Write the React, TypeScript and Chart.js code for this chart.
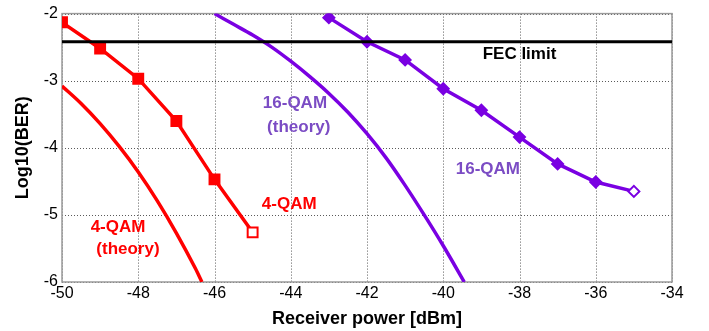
import React, { useEffect, useRef } from 'react';
import { Chart, registerables } from 'chart.js';

Chart.register(...registerables);

// ---- data ----
const qam4Power = [-50, -49, -48, -47, -46, -45];
const qam4LogBer = [-2.13, -2.52, -2.97, -3.6, -4.47, -5.26];

const qam16Power = [-43, -42, -41, -40, -39, -38, -37, -36, -35];
const qam16LogBer = [-2.06, -2.42, -2.69, -3.12, -3.44, -3.84, -4.24, -4.51, -4.65];

const qam4TheoryPower = [-50, -49.5, -49, -48.5, -48, -47.5, -47, -46.5, -46.33];
const qam4TheoryLogBer = [-3.08, -3.34, -3.64, -3.98, -4.36, -4.79, -5.27, -5.8, -6.0];

const qam16TheoryPower = [-46, -45.5, -45, -44.5, -44, -43.5, -43, -42.5, -42, -41.5, -41, -40.5, -40, -39.5, -39.45];
const qam16TheoryLogBer = [-2.0, -2.16, -2.32, -2.5, -2.71, -2.94, -3.19, -3.47, -3.79, -4.15, -4.56, -5.0, -5.46, -5.95, -6.0];

const fecLimit = -2.42;
const xRange = [-50, -34];
const yRange = [-6, -2];
const xStep = 2;
const yStep = 1;

const xTitle = 'Receiver power [dBm]';
const yTitle = 'Log10(BER)';

// annotation texts (anchored in data units)
const labelTexts = ['FEC limit', '16-QAM', '(theory)', '16-QAM', '4-QAM', '4-QAM', '(theory)'];
const labelX = [-38.0, -43.89, -43.79, -38.83, -44.04, -48.53, -48.27];
const labelY = [-2.6, -3.33, -3.69, -4.32, -4.84, -5.19, -5.51];
const labelColors = ['#000000', '#7b4cc4', '#7b4cc4', '#7b4cc4', '#ff0000', '#ff0000', '#ff0000'];

const RED = '#ff0000';
const PURPLE = '#7a00e2';
const FONT = "Arial, 'Liberation Sans', sans-serif";

const toPts = (xs: number[], ys: number[]) => xs.map((x, i) => ({ x, y: ys[i] }));

// dotted grid + solid frame, drawn from the chart's own scales
const framePlugin = {
  id: 'frame',
  beforeDatasetsDraw(chart: any) {
    const { ctx, chartArea, scales } = chart;
    const { left, right, top, bottom } = chartArea;
    ctx.save();
    ctx.strokeStyle = '#5a5a5a';
    ctx.lineWidth = 1;
    ctx.setLineDash([1, 2]);
    ctx.beginPath();
    scales.x.ticks.forEach((t: any) => {
      const px = Math.round(scales.x.getPixelForValue(t.value)) + 0.5;
      ctx.moveTo(px, top);
      ctx.lineTo(px, bottom);
    });
    scales.y.ticks.forEach((t: any) => {
      const py = Math.round(scales.y.getPixelForValue(t.value)) + 0.5;
      ctx.moveTo(left, py);
      ctx.lineTo(right, py);
    });
    ctx.stroke();
    ctx.setLineDash([]);
    ctx.strokeStyle = '#9a9a9a';
    ctx.lineWidth = 1.5;
    ctx.strokeRect(left, top, right - left, bottom - top);
    ctx.restore();
  },
};

const labelPlugin = {
  id: 'labels',
  afterDatasetsDraw(chart: any) {
    const { ctx, scales } = chart;
    ctx.save();
    ctx.font = `bold 17px ${FONT}`;
    ctx.textAlign = 'center';
    ctx.textBaseline = 'middle';
    labelTexts.forEach((t, i) => {
      ctx.fillStyle = labelColors[i];
      ctx.fillText(t, scales.x.getPixelForValue(labelX[i]), scales.y.getPixelForValue(labelY[i]));
    });
    ctx.restore();
  },
};

export default function App() {
  const ref = useRef<HTMLCanvasElement | null>(null);

  useEffect(() => {
    if (!ref.current) return;
    const gridOpts = { display: false, drawTicks: false };
    const borderOpts = { display: false };
    const chart = new Chart(ref.current, {
      type: 'scatter',
      data: {
        datasets: [
          {
            label: 'FEC limit',
            data: toPts(xRange, [fecLimit, fecLimit]),
            showLine: true,
            borderColor: '#000000',
            borderWidth: 3,
            pointRadius: 0,
          },
          {
            label: '4-QAM (theory)',
            data: toPts(qam4TheoryPower, qam4TheoryLogBer),
            showLine: true,
            borderColor: RED,
            borderWidth: 3.5,
            pointRadius: 0,
            cubicInterpolationMode: 'monotone',
          },
          {
            label: '16-QAM (theory)',
            data: toPts(qam16TheoryPower, qam16TheoryLogBer),
            showLine: true,
            borderColor: PURPLE,
            borderWidth: 3.5,
            pointRadius: 0,
            cubicInterpolationMode: 'monotone',
          },
          {
            label: '4-QAM',
            data: toPts(qam4Power, qam4LogBer),
            showLine: true,
            borderColor: RED,
            borderWidth: 3.5,
            pointStyle: 'rect',
            pointRadius: 7,
            pointBorderWidth: 2,
            pointBorderColor: RED,
            pointBackgroundColor: qam4Power.map((_, i) => (i === qam4Power.length - 1 ? '#ffffff' : RED)),
          },
          {
            label: '16-QAM',
            data: toPts(qam16Power, qam16LogBer),
            showLine: true,
            borderColor: PURPLE,
            borderWidth: 3.5,
            pointStyle: 'rectRot',
            pointRadius: 5.5,
            pointBorderWidth: 2,
            pointBorderColor: PURPLE,
            pointBackgroundColor: qam16Power.map((_, i) => (i === qam16Power.length - 1 ? '#ffffff' : PURPLE)),
          },
        ],
      },
      options: {
        animation: false,
        responsive: true,
        maintainAspectRatio: false,
        layout: { padding: { top: 10, right: 37, left: 0, bottom: 0 } },
        plugins: {
          legend: { display: false },
          tooltip: { enabled: false },
        },
        scales: {
          x: {
            type: 'linear',
            min: xRange[0],
            max: xRange[1],
            afterFit: (s: any) => {
              s.height = 49;
            },
            ticks: {
              stepSize: xStep,
              color: '#000000',
              padding: 2,
              font: { family: FONT, size: 16 },
              maxRotation: 0,
            },
            grid: gridOpts,
            border: borderOpts,
            title: {
              display: true,
              text: xTitle,
              color: '#000000',
              font: { family: FONT, size: 18, weight: 'bold' },
              padding: { top: 0, bottom: 1 },
            },
          },
          y: {
            type: 'linear',
            min: yRange[0],
            max: yRange[1],
            afterFit: (s: any) => {
              s.width = 62;
            },
            ticks: {
              stepSize: yStep,
              color: '#000000',
              padding: 4,
              font: { family: FONT, size: 16 },
            },
            grid: gridOpts,
            border: borderOpts,
            title: {
              display: true,
              text: yTitle,
              color: '#000000',
              font: { family: FONT, size: 18, weight: 'bold' },
              padding: { top: 12, bottom: 0 },
            },
          },
        },
      } as any,
      plugins: [framePlugin, labelPlugin],
    });
    return () => chart.destroy();
  }, []);

  return (
    <div style={{ position: 'fixed', left: 0, top: 0, width: 709, height: 331, background: '#ffffff' }}>
      <canvas ref={ref} />
    </div>
  );
}
